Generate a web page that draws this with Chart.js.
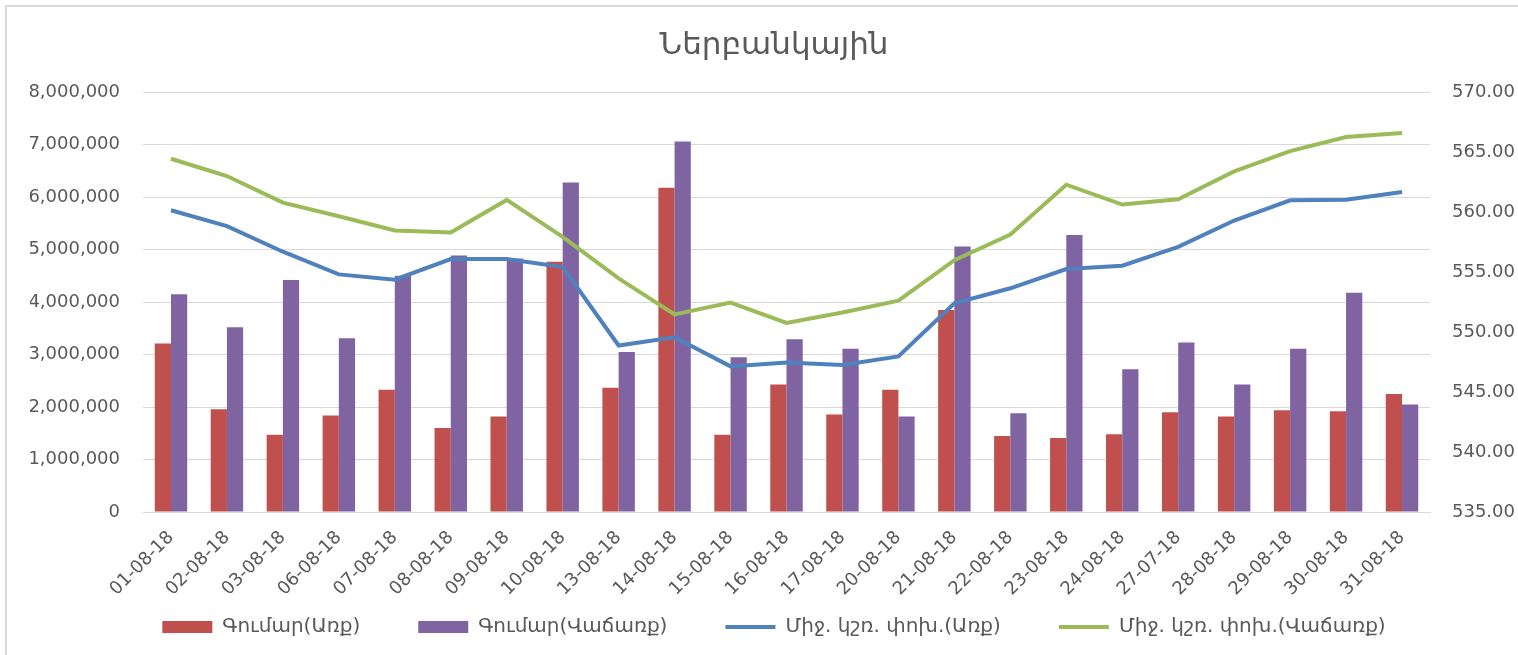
<!DOCTYPE html>
<html>
<head>
<meta charset="utf-8">
<script src="https://cdn.jsdelivr.net/npm/chart.js@4"></script>
<style>
  body { margin: 0; background: #fff; }
  #wrap { position: relative; width: 1518px; height: 655px; }
  #frame { position: absolute; left: 5px; top: 5px; right: 0; bottom: 0;
           border-left: 2px solid #d9d9d9; border-top: 2px solid #d9d9d9; pointer-events: none; }
</style>
</head>
<body>
<div id="wrap">
  <canvas id="grafico" width="1518" height="655"></canvas>
  <div id="frame"></div>
</div>
<script>
// fechas
const fechas = ["01-08-18","02-08-18","03-08-18","06-08-18","07-08-18","08-08-18","09-08-18","10-08-18",
  "13-08-18","14-08-18","15-08-18","16-08-18","17-08-18","20-08-18","21-08-18","22-08-18",
  "23-08-18","24-08-18","27-07-18","28-08-18","29-08-18","30-08-18","31-08-18"];

// Գումար
const sumaCompra = [3210000,1960000,1470000,1840000,2330000,1600000,1820000,4770000,
  2370000,6180000,1470000,2430000,1860000,2330000,3850000,1450000,
  1410000,1480000,1900000,1820000,1940000,1920000,2250000];
const sumaVenta = [4150000,3520000,4420000,3310000,4500000,4890000,4830000,6280000,
  3050000,7060000,2950000,3290000,3110000,1820000,5060000,1880000,
  5280000,2720000,3230000,2430000,3110000,4180000,2050000];

// tasa promedio
const tasaCompra = [560.16,558.83,556.70,554.81,554.37,556.09,556.09,555.42,
  548.88,549.57,547.14,547.47,547.25,547.97,552.40,553.65,
  555.26,555.53,557.11,559.30,560.99,561.04,561.68];
const tasaVenta = [564.45,563.01,560.79,559.66,558.47,558.30,561.02,557.94,
  554.48,551.48,552.46,550.77,551.63,552.62,556.00,558.13,
  562.29,560.63,561.08,563.40,565.09,566.26,566.59];

const gris = "#595959";
const fuente = "'DejaVu Sans', sans-serif";

const ctx = document.getElementById("grafico");
new Chart(ctx, {
  type: "bar",
  data: {
    labels: fechas,
    datasets: [
      { label: "Գումար(Առք)", data: sumaCompra, backgroundColor: "#c0504d", borderWidth: 0,
        yAxisID: "y", order: 2, pointStyle: "rect" },
      { label: "Գումար(Վաճառք)", data: sumaVenta, backgroundColor: "#8064a2", borderWidth: 0,
        yAxisID: "y", order: 2, pointStyle: "rect" },
      { type: "line", label: "Միջ. կշռ. փոխ.(Առք)", data: tasaCompra, borderColor: "#4f81bd",
        backgroundColor: "#4f81bd", borderWidth: 4, pointRadius: 0, tension: 0,
        yAxisID: "y1", order: 1, pointStyle: "line" },
      { type: "line", label: "Միջ. կշռ. փոխ.(Վաճառք)", data: tasaVenta, borderColor: "#9bbb59",
        backgroundColor: "#9bbb59", borderWidth: 4, pointRadius: 0, tension: 0,
        yAxisID: "y1", order: 1, pointStyle: "line" }
    ]
  },
  options: {
    responsive: false,
    animation: false,
    layout: { padding: { left: 30, right: 0, top: 0, bottom: 8 } },
    datasets: { bar: { categoryPercentage: 0.58, barPercentage: 1.0 } },
    plugins: {
      title: {
        display: true,
        text: "Ներբանկային",
        color: gris,
        font: { family: fuente, size: 31, weight: "normal" },
        padding: { top: 27, bottom: 28 }
      },
      legend: {
        position: "bottom",
        labels: {
          usePointStyle: true,
          pointStyleWidth: 50,
          boxHeight: 12,
          padding: 58,
          color: gris,
          font: { family: fuente, size: 20 },
          sort: (a, b) => a.datasetIndex - b.datasetIndex
        }
      },
      tooltip: { enabled: false }
    },
    scales: {
      x: {
        grid: { display: false },
        border: { display: true, color: "#d9d9d9" },
        ticks: { color: gris, font: { family: fuente, size: 18 }, minRotation: 45, maxRotation: 45, padding: 7 },
        afterFit: (s) => {
          s.height = 47;
          // las etiquetas giradas pasan del alto del eje, no recortarlas
          s._computeLabelArea = () => null;
        }
      },
      y: {
        position: "left",
        min: 0, max: 8000000,
        grid: { color: "#d9d9d9", drawTicks: false },
        border: { display: false },
        ticks: {
          stepSize: 1000000, color: gris, padding: 23,
          font: { family: fuente, size: 18 },
          callback: (v) => v.toLocaleString("en-US")
        },
        afterFit: (s) => { s.width = 113; }
      },
      y1: {
        position: "right",
        min: 535, max: 570,
        grid: { display: false, drawTicks: false },
        border: { display: false },
        ticks: {
          stepSize: 5, color: gris, padding: 22,
          font: { family: fuente, size: 18 },
          callback: (v) => v.toFixed(2)
        },
        afterFit: (s) => { s.width = 88; }
      }
    }
  }
});
</script>
</body>
</html>
